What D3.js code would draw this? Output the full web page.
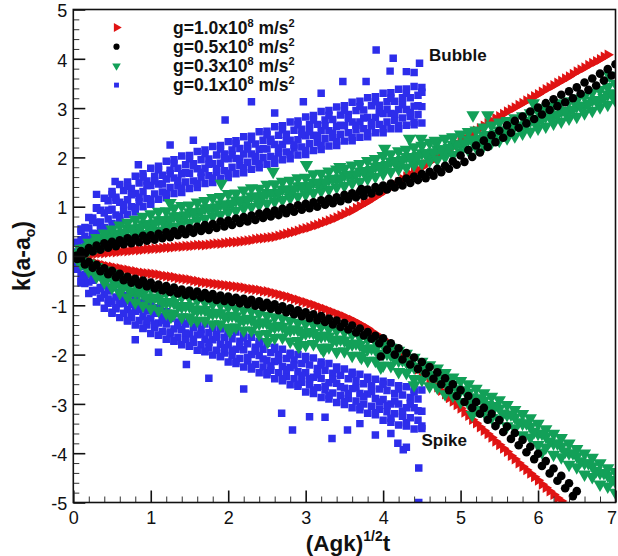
<!DOCTYPE html>
<html>
<head>
<meta charset="utf-8">
<script src="https://cdn.jsdelivr.net/npm/d3@7/dist/d3.min.js"></script>
<style>
  body { margin: 0; background: #fff; }
  svg { display: block; }
  text { font-family: "Liberation Sans", Arial, Helvetica, sans-serif; fill: #111; }
</style>
</head>
<body>
<svg id="chart" width="618" height="556"></svg>
<script>
// ---- sampling times (Agk)^1/2 t ----
const tA = [0,0.1,0.2,0.3,0.4,0.5,0.6,0.7,0.8,0.9,1,1.1,1.2,1.3,1.4,1.5,1.6,1.7,1.8,1.9,2,2.1,2.2,2.3,2.4,2.5,2.6,2.7,2.8,2.9,3,3.1,3.2,3.3,3.4,3.5,3.6,3.7,3.8,3.9,4,4.1,4.2,4.3,4.4,4.5,4.6,4.7,4.8,4.9,5,5.1,5.2,5.3,5.4,5.5,5.6,5.7,5.8,5.9,6,6.1,6.2,6.3,6.4,6.5,6.6,6.7,6.8,6.9,7];
const tH = [0.05,0.15,0.25,0.35,0.45,0.55,0.65,0.75,0.85,0.95,1.05,1.15,1.25,1.35,1.45,1.55,1.65,1.75,1.85,1.95,2.05,2.15,2.25,2.35,2.45,2.55,2.65,2.75,2.85,2.95,3.05,3.15,3.25,3.35,3.45,3.55,3.65,3.75,3.85,3.95,4.05,4.15,4.25,4.35,4.45,4.55,4.65,4.75,4.85,4.95,5.05,5.15,5.25,5.35,5.45,5.55,5.65,5.75,5.85,5.95,6.05,6.15,6.25,6.35,6.45,6.55,6.65,6.75,6.85,6.95];

// ---- g = 1.0e8 m/s^2 ----
const redBubble = [0.00,0.02,0.04,0.05,0.06,0.08,0.09,0.10,0.12,0.13,
  0.14,0.15,0.17,0.18,0.19,0.20,0.22,0.22,0.24,0.25,
  0.27,0.28,0.30,0.32,0.35,0.37,0.39,0.43,0.47,0.51,
  0.56,0.61,0.66,0.72,0.78,0.85,0.92,1.01,1.10,1.20,
  1.30,1.40,1.50,1.61,1.70,1.80,1.91,2.00,2.11,2.22,
  2.33,2.44,2.54,2.64,2.74,2.83,2.93,3.01,3.10,3.19,
  3.28,3.38,3.46,3.55,3.64,3.74,3.82,3.91,3.99,4.08];
const redBubbleH = [0.01,0.03,0.04,0.06,0.07,0.08,0.10,0.11,0.12,0.14,
  0.15,0.16,0.17,0.19,0.20,0.21,0.22,0.23,0.25,0.26,
  0.28,0.29,0.31,0.34,0.36,0.38,0.41,0.45,0.49,0.54,
  0.58,0.63,0.69,0.75,0.82,0.89,0.97,1.06,1.15,1.25,
  1.35,1.45,1.56,1.66,1.75,1.86,1.96,2.06,2.17,2.28,
  2.39,2.49,2.59,2.69,2.79,2.88,2.97,3.06,3.15,3.24,
  3.33,3.42,3.51,3.60,3.69,3.78,3.87,3.95,4.04];
const redSpike = [0.00,-0.06,-0.11,-0.15,-0.19,-0.22,-0.25,-0.28,-0.31,-0.34,
  -0.36,-0.38,-0.41,-0.43,-0.46,-0.48,-0.51,-0.54,-0.56,-0.58,
  -0.60,-0.62,-0.64,-0.67,-0.69,-0.72,-0.76,-0.80,-0.84,-0.89,
  -0.94,-0.99,-1.05,-1.11,-1.17,-1.23,-1.30,-1.38,-1.47,-1.58,
  -1.69,-1.81,-1.94,-2.08,-2.22,-2.37,-2.51,-2.66,-2.80,-2.95,
  -3.09,-3.24,-3.39,-3.54,-3.68,-3.83,-3.97,-4.12,-4.27,-4.41,
  -4.55,-4.70,-4.84,-4.97];
const redSpikeH = [-0.03,-0.09,-0.13,-0.17,-0.21,-0.24,-0.27,-0.30,-0.33,-0.35,
  -0.37,-0.40,-0.42,-0.45,-0.47,-0.50,-0.53,-0.55,-0.57,-0.59,
  -0.61,-0.63,-0.66,-0.68,-0.71,-0.74,-0.78,-0.82,-0.87,-0.92,
  -0.97,-1.02,-1.08,-1.14,-1.20,-1.27,-1.34,-1.43,-1.53,-1.64,
  -1.75,-1.88,-2.01,-2.15,-2.30,-2.44,-2.59,-2.73,-2.88,-3.02,
  -3.17,-3.32,-3.47,-3.61,-3.76,-3.90,-4.05,-4.20,-4.34,-4.48,
  -4.63,-4.77,-4.91];

// ---- g = 0.5e8 m/s^2 ----
const blackBubbleA = [0.00,0.10,0.16,0.21,0.26,0.29,0.32,0.36,0.37,0.41,
  0.42,0.45,0.48,0.50,0.54,0.56,0.59,0.63,0.65,0.70,
  0.72,0.76,0.79,0.82,0.86,0.89,0.92,0.96,0.99,1.03,
  1.06,1.09,1.13,1.16,1.19,1.24,1.27,1.31,1.35,1.40,
  1.43,1.47,1.52,1.57,1.61,1.66,1.71,1.77,1.83,1.92,
  2.04,2.15,2.24,2.34,2.45,2.54,2.65,2.74,2.83,2.93,
  3.01,3.10,3.18,3.27,3.34,3.42,3.52,3.60,3.70,3.79,3.89];
const blackBubbleB = [0.01,0.05,0.09,0.13,0.17,0.20,0.24,0.26,0.28,0.31,
  0.33,0.36,0.38,0.42,0.44,0.47,0.51,0.53,0.57,0.60,
  0.63,0.67,0.70,0.73,0.77,0.80,0.83,0.87,0.90,0.94,
  0.97,1.00,1.04,1.07,1.11,1.15,1.19,1.22,1.27,1.31,
  1.35,1.39,1.43,1.48,1.54,1.58,1.63,1.70,1.77,1.85,
  1.91,2.01,2.10,2.21,2.31,2.40,2.50,2.60,2.69,2.78,
  2.87,2.96,3.04,3.12,3.20,3.29,3.37,3.46,3.56,3.66];
const blackSpikeA = [0.00,-0.05,-0.12,-0.18,-0.25,-0.30,-0.36,-0.42,-0.46,-0.50,
  -0.54,-0.58,-0.61,-0.64,-0.68,-0.70,-0.72,-0.75,-0.77,-0.80,
  -0.82,-0.85,-0.87,-0.89,-0.92,-0.95,-0.98,-1.02,-1.06,-1.10,
  -1.14,-1.18,-1.22,-1.27,-1.31,-1.36,-1.41,-1.47,-1.54,-1.62,
  -1.67,-1.77,-1.87,-1.97,-2.06,-2.15,-2.25,-2.36,-2.48,-2.60,
  -2.72,-2.84,-2.96,-3.08,-3.20,-3.33,-3.46,-3.59,-3.73,-3.87,
  -4.01,-4.16,-4.31,-4.46,-4.61,-4.77];
const blackSpikeB = [-0.06,-0.17,-0.24,-0.31,-0.37,-0.43,-0.49,-0.54,-0.58,-0.62,
  -0.66,-0.70,-0.73,-0.76,-0.79,-0.81,-0.84,-0.86,-0.89,-0.91,
  -0.93,-0.96,-0.98,-1.01,-1.04,-1.07,-1.10,-1.14,-1.18,-1.22,
  -1.26,-1.30,-1.34,-1.39,-1.44,-1.49,-1.55,-1.61,-1.68,-1.77,
  -1.90,-2.00,-2.10,-2.20,-2.29,-2.38,-2.49,-2.60,-2.72,-2.84,
  -2.96,-3.08,-3.20,-3.32,-3.45,-3.57,-3.71,-3.84,-3.98,-4.12,
  -4.26,-4.41,-4.56,-4.71,-4.87];
const blackExtra = [[3.97,-2.04],[3.72,1.36]];

// ---- g = 0.3e8 m/s^2 ----
const greenBubbleA = [0.00,0.15,0.27,0.37,0.46,0.54,0.62,0.68,0.74,0.80,
  0.85,0.90,0.91,0.97,1.02,1.03,1.09,1.12,1.18,1.20,
  1.26,1.27,1.33,1.38,1.37,1.45,1.46,1.51,1.53,1.58,
  1.59,1.66,1.67,1.72,1.76,1.78,1.84,1.87,1.93,1.97,
  2.03,2.07,2.13,2.16,2.21,2.24,2.30,2.32,2.38,2.41,
  2.47,2.52,2.55,2.61,2.65,2.71,2.74,2.80,2.84,2.90,
  2.94,3.00,3.04,3.10,3.14,3.20,3.25,3.32,3.37,3.43,3.50];
const greenBubbleB = [0.05,0.16,0.23,0.33,0.37,0.45,0.48,0.56,0.58,0.65,
  0.67,0.73,0.75,0.81,0.83,0.89,0.91,0.97,0.99,1.05,
  1.07,1.13,1.15,1.21,1.22,1.28,1.29,1.35,1.36,1.42,
  1.43,1.49,1.50,1.57,1.58,1.65,1.66,1.73,1.75,1.83,
  1.85,1.93,1.95,2.01,2.03,2.09,2.11,2.17,2.20,2.27,
  2.29,2.36,2.38,2.46,2.48,2.55,2.57,2.65,2.67,2.75,
  2.77,2.85,2.87,2.95,2.97,3.05,3.09,3.17,3.21,3.30];
const greenBubbleC = [0.00,0.07,0.13,0.19,0.24,0.29,0.33,0.37,0.41,0.45,
  0.49,0.52,0.57,0.60,0.65,0.68,0.73,0.76,0.81,0.84,
  0.89,0.92,0.97,1.00,1.04,1.07,1.11,1.14,1.18,1.21,
  1.25,1.28,1.32,1.35,1.40,1.43,1.48,1.51,1.57,1.61,
  1.67,1.71,1.77,1.80,1.85,1.88,1.93,1.96,2.01,2.05,
  2.11,2.15,2.20,2.24,2.30,2.34,2.39,2.43,2.49,2.53,
  2.59,2.63,2.69,2.73,2.79,2.83,2.90,2.95,3.02,3.07,3.15];
const greenBubbleD = [0.00,0.12,0.19,0.30,0.34,0.44,0.46,0.55,0.56,0.65,
  0.64,0.73,0.72,0.81,0.80,0.89,0.88,0.97,0.96,1.05,
  1.04,1.13,1.12,1.21,1.19,1.28,1.26,1.35,1.33,1.42,
  1.40,1.49,1.47,1.56,1.55,1.64,1.63,1.72,1.72,1.82,
  1.82,1.92,1.92,2.01,2.00,2.09,2.08,2.17,2.16,2.26,
  2.26,2.36,2.35,2.45,2.45,2.55,2.54,2.64,2.64,2.74,
  2.74,2.84,2.84,2.94,2.94,3.04,3.05,3.16,3.17,3.28,3.30];
const greenBubbleExtra = [[1.25,1.08],[1.91,1.47],[2.58,1.71],[3.01,1.85],[3.44,1.81],[4.02,2.18],
  [4.34,2.38],[4.49,2.38],[4.67,2.34],[4.90,2.40],[5.16,2.86],[5.35,2.86],[5.94,3.10],[6.50,3.16],[6.92,3.66]];
const greenSpikeA = [0.00,-0.08,-0.15,-0.22,-0.29,-0.35,-0.43,-0.49,-0.55,-0.62,
  -0.66,-0.70,-0.75,-0.80,-0.83,-0.85,-0.90,-0.94,-0.97,-0.99,
  -1.03,-1.07,-1.10,-1.12,-1.17,-1.21,-1.24,-1.26,-1.31,-1.35,
  -1.37,-1.39,-1.43,-1.48,-1.51,-1.54,-1.59,-1.65,-1.69,-1.73,
  -1.79,-1.86,-1.92,-1.98,-2.06,-2.14,-2.21,-2.28,-2.37,-2.46,
  -2.53,-2.60,-2.69,-2.78,-2.85,-2.92,-3.02,-3.12,-3.20,-3.29,
  -3.40,-3.51,-3.60,-3.69,-3.80,-3.91,-4.00,-4.09,-4.20,-4.30,-4.38];
const greenSpikeB = [-0.06,-0.19,-0.25,-0.38,-0.43,-0.55,-0.59,-0.71,-0.74,-0.84,
  -0.84,-0.93,-0.93,-1.01,-1.01,-1.08,-1.08,-1.15,-1.15,-1.22,
  -1.21,-1.29,-1.27,-1.36,-1.34,-1.43,-1.41,-1.50,-1.48,-1.56,
  -1.54,-1.62,-1.61,-1.70,-1.69,-1.78,-1.77,-1.88,-1.87,-1.98,
  -1.98,-2.09,-2.11,-2.23,-2.25,-2.38,-2.40,-2.54,-2.56,-2.70,
  -2.72,-2.86,-2.88,-3.02,-3.04,-3.19,-3.21,-3.37,-3.39,-3.56,
  -3.60,-3.76,-3.80,-3.96,-4.00,-4.16,-4.20,-4.36,-4.40,-4.54];
const greenSpikeC = [0.00,-0.16,-0.30,-0.42,-0.53,-0.64,-0.75,-0.84,-0.94,-1.00,
  -1.06,-1.10,-1.16,-1.17,-1.24,-1.24,-1.31,-1.31,-1.38,-1.38,
  -1.45,-1.44,-1.51,-1.51,-1.59,-1.58,-1.66,-1.65,-1.73,-1.72,
  -1.80,-1.78,-1.86,-1.85,-1.94,-1.93,-2.02,-2.02,-2.12,-2.12,
  -2.22,-2.23,-2.35,-2.37,-2.49,-2.51,-2.64,-2.67,-2.80,-2.83,
  -2.96,-2.99,-3.12,-3.15,-3.28,-3.31,-3.45,-3.49,-3.63,-3.68,
  -3.83,-3.88,-4.03,-4.08,-4.23,-4.28,-4.43,-4.48,-4.63,-4.67,-4.80];
const greenSpikeD = [0.00,-0.11,-0.24,-0.30,-0.42,-0.47,-0.59,-0.63,-0.74,-0.77,
  -0.86,-0.87,-0.95,-0.95,-1.03,-1.02,-1.10,-1.09,-1.17,-1.16,
  -1.23,-1.22,-1.30,-1.29,-1.37,-1.36,-1.44,-1.43,-1.51,-1.50,
  -1.57,-1.56,-1.63,-1.63,-1.71,-1.71,-1.79,-1.80,-1.89,-1.90,
  -1.99,-2.01,-2.12,-2.15,-2.26,-2.29,-2.41,-2.45,-2.57,-2.61,
  -2.73,-2.77,-2.89,-2.93,-3.05,-3.09,-3.22,-3.27,-3.40,-3.46,
  -3.60,-3.66,-3.80,-3.86,-4.00,-4.06,-4.20,-4.26,-4.40,-4.45,-4.58];
const greenSpikeExtra = [[1.26,-1.23],[1.52,-1.30],[2.02,-1.53],[2.51,-1.74],[2.91,-1.84],
  [3.23,-1.92],[3.72,-2.06],[3.97,-2.26],[4.40,-2.62],[5.15,-3.22],[6.05,-3.98]];

// ---- g = 0.1e8 m/s^2 (seven bands across the scatter cloud) ----
const blueBubble1 = [0.00,0.50,0.78,0.97,1.17,1.31,1.45,1.50,1.62,1.67,
  1.78,1.82,1.92,1.95,2.03,2.04,2.12,2.15,2.22,2.24,
  2.32,2.34,2.42,2.43,2.52,2.53,2.62,2.64,2.72,2.74,
  2.82,2.85,2.93,2.95,3.02,3.05,3.12,3.14,3.21,3.23,
  3.30,3.31,3.38,3.39,3.44,3.42];
const blueBubble2 = [0.27,0.58,0.77,0.93,1.12,1.19,1.33,1.37,1.48,1.52,
  1.62,1.64,1.74,1.78,1.85,1.87,1.95,1.97,2.05,2.07,
  2.15,2.18,2.25,2.27,2.35,2.37,2.45,2.47,2.55,2.57,
  2.66,2.67,2.76,2.77,2.86,2.87,2.95,2.96,3.05,3.06,
  3.13,3.14,3.21,3.21,3.26];
const blueBubble3 = [0.00,0.33,0.57,0.68,0.87,0.95,1.09,1.14,1.27,1.31,
  1.43,1.46,1.56,1.58,1.67,1.68,1.77,1.78,1.87,1.88,
  1.97,1.98,2.07,2.07,2.16,2.17,2.26,2.26,2.35,2.36,
  2.44,2.45,2.54,2.54,2.63,2.64,2.72,2.72,2.81,2.81,
  2.89,2.89,2.97,2.97,3.04,3.03];
const blueBubble4 = [0.08,0.30,0.46,0.58,0.75,0.83,0.93,1.00,1.10,1.16,
  1.26,1.30,1.39,1.42,1.50,1.52,1.60,1.63,1.70,1.73,
  1.80,1.83,1.90,1.92,2.00,2.02,2.09,2.11,2.19,2.21,
  2.28,2.30,2.38,2.40,2.47,2.50,2.56,2.58,2.64,2.67,
  2.72,2.75,2.80,2.83,2.87];
const blueBubble5 = [0.00,0.17,0.33,0.45,0.57,0.66,0.72,0.84,0.89,1.00,
  1.05,1.15,1.18,1.27,1.29,1.37,1.39,1.47,1.49,1.57,
  1.59,1.67,1.69,1.76,1.79,1.86,1.88,1.95,1.97,2.05,
  2.06,2.14,2.16,2.23,2.24,2.33,2.34,2.41,2.42,2.50,
  2.50,2.58,2.58,2.65,2.66,2.70];
const blueBubble6 = [0.28,0.40,0.72,0.69,0.93,1.13,1.04,1.24,1.19,1.43,
  1.52,1.46,1.67,1.53,1.69,1.83,1.70,1.86,1.77,1.98,
  2.05,1.97,2.17,2.02,2.18,2.32,2.19,2.34,2.25,2.46,
  2.52,2.44,2.64,2.49,2.65,2.79,2.65,2.80,2.71,2.91,
  2.97,2.88,3.07,2.91,3.05];
const blueBubble7 = [0.00,0.55,0.30,0.98,0.58,1.25,0.80,1.41,0.98,1.60,
  1.14,1.75,1.27,1.88,1.38,1.97,1.47,2.08,1.58,2.17,
  1.68,2.28,1.79,2.37,1.87,2.46,1.97,2.56,2.06,2.66,
  2.14,2.76,2.24,2.85,2.33,2.95,2.41,3.03,2.50,3.13,
  2.58,3.20,2.64,3.30,2.72,3.32];
const blueBubbleExtra = [[0.30,1.25],[0.54,1.51],[0.84,1.85],[1.25,2.25],[1.55,2.35],[1.96,2.76],
  [2.30,3.13],[2.60,2.90],[2.97,3.13],[3.20,3.30],[3.48,3.54],[3.78,3.54],[3.91,4.18],
  [4.09,3.75],[4.13,4.01],[4.30,3.74],[4.40,3.72],[4.47,3.91]];
const blueSpike1 = [0.00,-0.22,-0.37,-0.42,-0.56,-0.63,-0.74,-0.80,-0.89,-0.94,
  -1.01,-1.05,-1.13,-1.17,-1.24,-1.27,-1.35,-1.38,-1.45,-1.48,
  -1.51,-1.54,-1.61,-1.65,-1.73,-1.77,-1.85,-1.89,-1.97,-2.00,
  -2.04,-2.07,-2.15,-2.18,-2.25,-2.29,-2.36,-2.40,-2.46,-2.50,
  -2.54,-2.57,-2.63,-2.65,-2.71,-2.72];
const blueSpike2 = [-0.14,-0.38,-0.49,-0.64,-0.71,-0.83,-0.89,-0.98,-1.03,-1.11,
  -1.16,-1.23,-1.27,-1.34,-1.38,-1.45,-1.49,-1.55,-1.59,-1.65,
  -1.68,-1.73,-1.78,-1.85,-1.89,-1.96,-2.00,-2.08,-2.11,-2.18,
  -2.21,-2.28,-2.32,-2.38,-2.42,-2.49,-2.53,-2.59,-2.63,-2.70,
  -2.73,-2.79,-2.82,-2.87,-2.90];
const blueSpike3 = [0.00,-0.40,-0.53,-0.70,-0.78,-0.92,-0.97,-1.09,-1.12,-1.23,
  -1.26,-1.36,-1.38,-1.48,-1.49,-1.58,-1.60,-1.69,-1.70,-1.79,
  -1.80,-1.89,-1.90,-2.00,-2.02,-2.12,-2.14,-2.24,-2.26,-2.35,
  -2.37,-2.46,-2.48,-2.57,-2.58,-2.68,-2.69,-2.79,-2.80,-2.89,
  -2.91,-3.00,-3.00,-3.08,-3.08,-3.15];
const blueSpike4 = [-0.25,-0.56,-0.70,-0.85,-0.96,-1.07,-1.16,-1.25,-1.31,-1.40,
  -1.45,-1.53,-1.58,-1.65,-1.69,-1.75,-1.80,-1.86,-1.91,-1.97,
  -2.02,-2.08,-2.13,-2.20,-2.25,-2.32,-2.37,-2.45,-2.49,-2.56,
  -2.61,-2.67,-2.72,-2.78,-2.83,-2.89,-2.94,-3.00,-3.05,-3.11,
  -3.16,-3.20,-3.25,-3.28,-3.33];
const blueSpike5 = [0.00,-0.52,-0.76,-0.93,-1.06,-1.14,-1.25,-1.31,-1.40,-1.46,
  -1.57,-1.61,-1.69,-1.73,-1.80,-1.83,-1.91,-1.94,-2.01,-2.04,
  -2.15,-2.18,-2.25,-2.29,-2.37,-2.41,-2.49,-2.53,-2.61,-2.64,
  -2.76,-2.79,-2.87,-2.90,-2.97,-3.01,-3.08,-3.12,-3.19,-3.22,
  -3.33,-3.37,-3.43,-3.45,-3.51,-3.50];
const blueSpike6 = [-0.27,-0.41,-0.73,-0.66,-0.87,-1.05,-0.96,-1.16,-1.08,-1.31,
  -1.38,-1.31,-1.54,-1.41,-1.56,-1.69,-1.58,-1.75,-1.65,-1.86,
  -1.92,-1.84,-2.06,-1.93,-2.09,-2.23,-2.12,-2.30,-2.21,-2.42,
  -2.49,-2.41,-2.64,-2.50,-2.65,-2.79,-2.67,-2.85,-2.75,-2.96,
  -3.03,-2.94,-3.15,-3.00,-3.14];
const blueSpike7 = [0.00,-0.55,-0.33,-0.93,-0.58,-1.16,-0.76,-1.32,-0.90,-1.47,
  -1.03,-1.60,-1.14,-1.72,-1.25,-1.82,-1.36,-1.93,-1.46,-2.04,
  -1.56,-2.14,-1.66,-2.25,-1.78,-2.37,-1.89,-2.49,-2.01,-2.60,
  -2.10,-2.72,-2.21,-2.83,-2.30,-2.95,-2.40,-3.06,-2.50,-3.18,
  -2.60,-3.29,-2.70,-3.38,-2.76,-3.45];
const blueSpikeExtra = [[0.80,-1.70],[1.10,-1.95],[1.46,-2.20],[1.75,-2.48],[2.20,-2.70],
  [2.69,-3.19],[2.83,-3.53],[3.05,-3.26],[3.25,-3.27],[3.34,-3.70],[3.54,-3.53],
  [3.70,-3.40],[3.90,-3.63],[4.10,-3.60],[4.19,-3.80],[4.26,-3.93],[4.30,-3.88],
  [4.46,-4.30],[4.46,-5.00]];

// ---- axes and labels ----
const xTicks = [0,1,2,3,4,5,6,7];
const xTickLabels = ["0","1","2","3","4","5","6","7"];
const yTicks = [-5,-4,-3,-2,-1,0,1,2,3,4,5];
const yTickLabels = ["-5","-4","-3","-2","-1","0","1","2","3","4","5"];
const xMinor = [0.2,0.4,0.6,0.8,1.2,1.4,1.6,1.8,2.2,2.4,2.6,2.8,3.2,3.4,3.6,3.8,4.2,4.4,4.6,4.8,5.2,5.4,5.6,5.8,6.2,6.4,6.6,6.8];
const yMinor = [-4.8,-4.6,-4.4,-4.2,-3.8,-3.6,-3.4,-3.2,-2.8,-2.6,-2.4,-2.2,-1.8,-1.6,-1.4,-1.2,-0.8,-0.6,-0.4,-0.2,
  0.2,0.4,0.6,0.8,1.2,1.4,1.6,1.8,2.2,2.4,2.6,2.8,3.2,3.4,3.6,3.8,4.2,4.4,4.6,4.8];
const legendText = ["g=1.0x10", "g=0.5x10", "g=0.3x10", "g=0.1x10"];
const legendExp = "8";
const legendUnit = " m/s";
const legendUnitExp = "2";

// ---- layout ----
const svg = d3.select("#chart");
const x = d3.scaleLinear().domain([0, 7]).range([73.3, 615.5]);
const y = d3.scaleLinear().domain([-5, 5]).range([502.5, 9.5]);

const colors = { red: "#e01313", black: "#000000", green: "#12a058", blue: "#2d2deb" };

const sym = {
  red:   { path: d3.symbol().type(d3.symbolTriangle).size(50)(), rot: 90 },
  black: { path: d3.symbol().type(d3.symbolCircle).size(58)(), rot: 0 },
  green: { path: d3.symbol().type(d3.symbolTriangle).size(76)(), rot: 180 },
  blue:  { path: d3.symbol().type(d3.symbolSquare).size(56)(), rot: 0 }
};

const pair = (grid, vals) => vals.map((v, i) => [grid[i], v]);

// drawing order: later series paint over earlier ones
const series = [
  { key: "blue", pts: [].concat(
      pair(tA, blueBubble5), pair(tH, blueBubble4), pair(tA, blueBubble3), pair(tH, blueBubble2), pair(tA, blueBubble1),
      pair(tH, blueBubble6), pair(tA, blueBubble7), blueBubbleExtra,
      pair(tA, blueSpike1), pair(tH, blueSpike2), pair(tA, blueSpike3), pair(tH, blueSpike4), pair(tA, blueSpike5),
      pair(tH, blueSpike6), pair(tA, blueSpike7), blueSpikeExtra) },
  { key: "red", pts: [].concat(pair(tA, redBubble), pair(tH, redBubbleH), pair(tA, redSpike), pair(tH, redSpikeH)) },
  { key: "green", pts: [].concat(
      pair(tA, greenBubbleC), pair(tA, greenBubbleD), pair(tH, greenBubbleB), pair(tA, greenBubbleA), greenBubbleExtra,
      pair(tA, greenSpikeA), pair(tA, greenSpikeD), pair(tH, greenSpikeB), pair(tA, greenSpikeC), greenSpikeExtra) },
  { key: "black", pts: [].concat(
      pair(tA, blackBubbleA), pair(tH, blackBubbleB), pair(tA, blackSpikeA), pair(tH, blackSpikeB), blackExtra) }
];

svg.append("defs").append("clipPath").attr("id", "plotClip")
  .append("rect")
  .attr("x", x(0)).attr("y", y(5))
  .attr("width", x(7) - x(0)).attr("height", y(-5) - y(5));

const plot = svg.append("g").attr("clip-path", "url(#plotClip)");

series.forEach(s => {
  plot.append("g").selectAll("path")
    .data(s.pts)
    .join("path")
    .attr("d", sym[s.key].path)
    .attr("fill", colors[s.key])
    .attr("transform", d => `translate(${x(d[0])},${y(d[1])}) rotate(${sym[s.key].rot})`);
});

// ---- axes (ticks point into the plot) ----
const xAxis = d3.axisBottom(x).tickValues(xTicks)
  .tickFormat((d, i) => xTickLabels[i]).tickSizeInner(-12).tickSizeOuter(0).tickPadding(9);
const gx = svg.append("g").attr("transform", `translate(0,${y(-5)})`).call(xAxis);
gx.select(".domain").remove();
gx.selectAll("line").attr("stroke", "#111").attr("stroke-width", 1.6);
gx.selectAll("text").attr("font-size", 18).attr("fill", "#111");
// keep the last label inside the page edge
gx.selectAll("text").filter(d => d === 7).attr("dx", -4);

const xAxisMinor = d3.axisBottom(x).tickValues(xMinor).tickFormat("").tickSizeInner(-6).tickSizeOuter(0);
const gxm = svg.append("g").attr("transform", `translate(0,${y(-5)})`).call(xAxisMinor);
gxm.select(".domain").remove();
gxm.selectAll("line").attr("stroke", "#333").attr("stroke-width", 1);

const yAxis = d3.axisLeft(y).tickValues(yTicks)
  .tickFormat((d, i) => yTickLabels[i]).tickSizeInner(-12).tickSizeOuter(0).tickPadding(6);
const gy = svg.append("g").attr("transform", `translate(${x(0)},0)`).call(yAxis);
gy.select(".domain").remove();
gy.selectAll("line").attr("stroke", "#111").attr("stroke-width", 1.6);
gy.selectAll("text").attr("font-size", 18).attr("fill", "#111").attr("dy", "0.4em");

const yAxisMinor = d3.axisLeft(y).tickValues(yMinor).tickFormat("").tickSizeInner(-6).tickSizeOuter(0);
const gym = svg.append("g").attr("transform", `translate(${x(0)},0)`).call(yAxisMinor);
gym.select(".domain").remove();
gym.selectAll("line").attr("stroke", "#333").attr("stroke-width", 1);

// frame
svg.append("rect")
  .attr("x", x(0)).attr("y", y(5))
  .attr("width", x(7) - x(0)).attr("height", y(-5) - y(5))
  .attr("fill", "none").attr("stroke", "#111").attr("stroke-width", 1.6);

// axis titles
const xt = svg.append("text")
  .attr("x", 348).attr("y", 551)
  .attr("text-anchor", "middle")
  .attr("font-size", 22.5).attr("font-weight", "bold");
xt.append("tspan").text("(Agk)");
xt.append("tspan").attr("font-size", 14).attr("dy", -10).text("1/2");
xt.append("tspan").attr("dy", 10).text("t");

const yt = svg.append("text")
  .attr("transform", "translate(30,256) rotate(-90)")
  .attr("text-anchor", "middle")
  .attr("font-size", 23).attr("font-weight", "bold");
yt.append("tspan").text("k(a-a");
yt.append("tspan").attr("font-size", 14).attr("dy", 5).text("o");
yt.append("tspan").attr("dy", -5).text(")");

// ---- legend ----
const legendKeys = ["red", "black", "green", "blue"];
const legendSize = { red: 36, black: 30, green: 32, blue: 24 };
const lg = svg.append("g");
legendKeys.forEach((k, i) => {
  const cy = 27.5 + i * 19.2;
  lg.append("path")
    .attr("d", d3.symbol().type(k === "black" ? d3.symbolCircle : k === "blue" ? d3.symbolSquare : d3.symbolTriangle).size(legendSize[k])())
    .attr("fill", colors[k])
    .attr("transform", `translate(116.5,${cy}) rotate(${sym[k].rot})`);
  const t = lg.append("text")
    .attr("x", 173).attr("y", cy + 6)
    .attr("font-size", 17.5).attr("font-weight", "bold");
  t.append("tspan").text(legendText[i]);
  t.append("tspan").attr("font-size", 11).attr("dy", -7).text(legendExp);
  t.append("tspan").attr("dy", 7).text(legendUnit);
  t.append("tspan").attr("font-size", 11).attr("dy", -7).text(legendUnitExp);
});

// branch labels
svg.append("text").attr("x", 429).attr("y", 61)
  .attr("font-size", 17).attr("font-weight", "bold").text("Bubble");
svg.append("text").attr("x", 421.5).attr("y", 446)
  .attr("font-size", 17).attr("font-weight", "bold").text("Spike");
</script>
</body>
</html>
